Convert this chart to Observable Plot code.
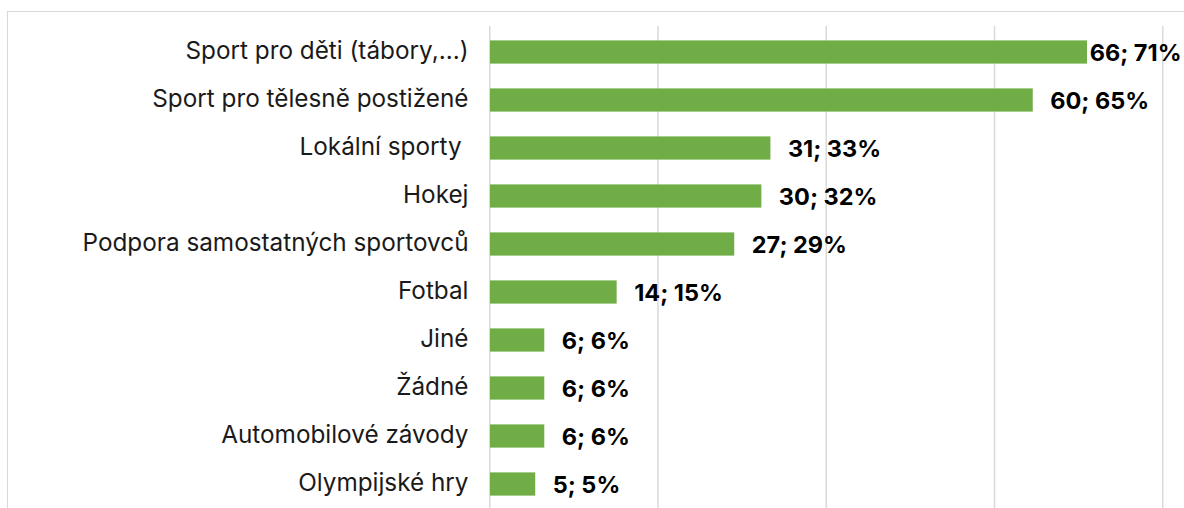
<!DOCTYPE html>
<html>
<head>
<meta charset="utf-8">
<script src="https://cdn.jsdelivr.net/npm/d3@7"></script>
<script src="https://cdn.jsdelivr.net/npm/@observablehq/plot@0.6"></script>
<style>
  html, body { margin: 0; padding: 0; background: #fff; overflow: hidden; }
  #wrap { position: relative; width: 1184px; height: 508px; }
  #frame { position: absolute; left: 7px; top: 11px; width: 1200px; height: 520px;
           border-top: 1.5px solid #d9d9d9; border-left: 1.5px solid #d9d9d9; box-sizing: border-box; }
  #chart { position: absolute; left: 0; top: 0; }
  #chart svg { font-family: Inter, "Noto Sans", sans-serif; }
</style>
</head>
<body>
<div id="wrap"><div id="frame"></div><div id="chart"></div></div>
<script>
const categories = [
  "Sport pro děti (tábory,...)",
  "Sport pro tělesně postižené",
  "Lokální sporty\u00a0",
  "Hokej",
  "Podpora samostatných sportovců",
  "Fotbal",
  "Jiné",
  "Žádné",
  "Automobilové závody",
  "Olympijské hry"
];
const counts = [66, 60, 31, 30, 27, 14, 6, 6, 6, 5];
const percents = [71, 65, 33, 32, 29, 15, 6, 6, 6, 5];
const respondents = 93;
const xTicks = [0, 20, 40, 60, 80];

const data = categories.map((c, i) => ({
  category: c,
  count: counts[i],
  pct: percents[i],
  share: counts[i] / respondents * 100,
  label: `${counts[i]}; ${percents[i]}%`
}));

const green = "#70ad47";
const band = 48.3;
const barH = 23.5;
const inset = (band - barH) / 2;

const chart = Plot.plot({
  width: 1184,
  height: 509,
  marginLeft: 490,
  marginRight: 21,
  marginTop: 26,
  marginBottom: 0,
  style: { background: "transparent", fontFamily: "Inter, 'Noto Sans', sans-serif" },
  x: { domain: [0, 80], axis: null },
  y: { domain: categories, padding: 0, label: null },
  marks: [
    Plot.ruleX(xTicks, { stroke: "#d9d9d9", strokeWidth: 1.5, dx: -0.75 }),
    Plot.barX(data, {
      x: "share", y: "category", fill: green,
      insetTop: inset, insetBottom: inset
    }),
    Plot.axisY({
      tickSize: 0, tickPadding: 22, fontSize: 24.3, label: null,
      fill: "#1a1a1a", dy: -1
    }),
    Plot.text(data.filter(d => d.share < 70), {
      x: "share", y: "category", text: "label",
      textAnchor: "start", dx: 17, dy: 0.5,
      fontSize: 23.5, fontWeight: "bold", fill: "#000"
    }),
    Plot.text(data.filter(d => d.share >= 70), {
      y: "category", text: "label", frameAnchor: "right",
      textAnchor: "end", dx: 18, dy: 0.5,
      fontSize: 23.5, fontWeight: "bold", fill: "#000"
    })
  ]
});
chart.querySelectorAll("text").forEach(t => t.setAttribute("xml:space", "preserve"));
document.getElementById("chart").appendChild(chart);
</script>
</body>
</html>
